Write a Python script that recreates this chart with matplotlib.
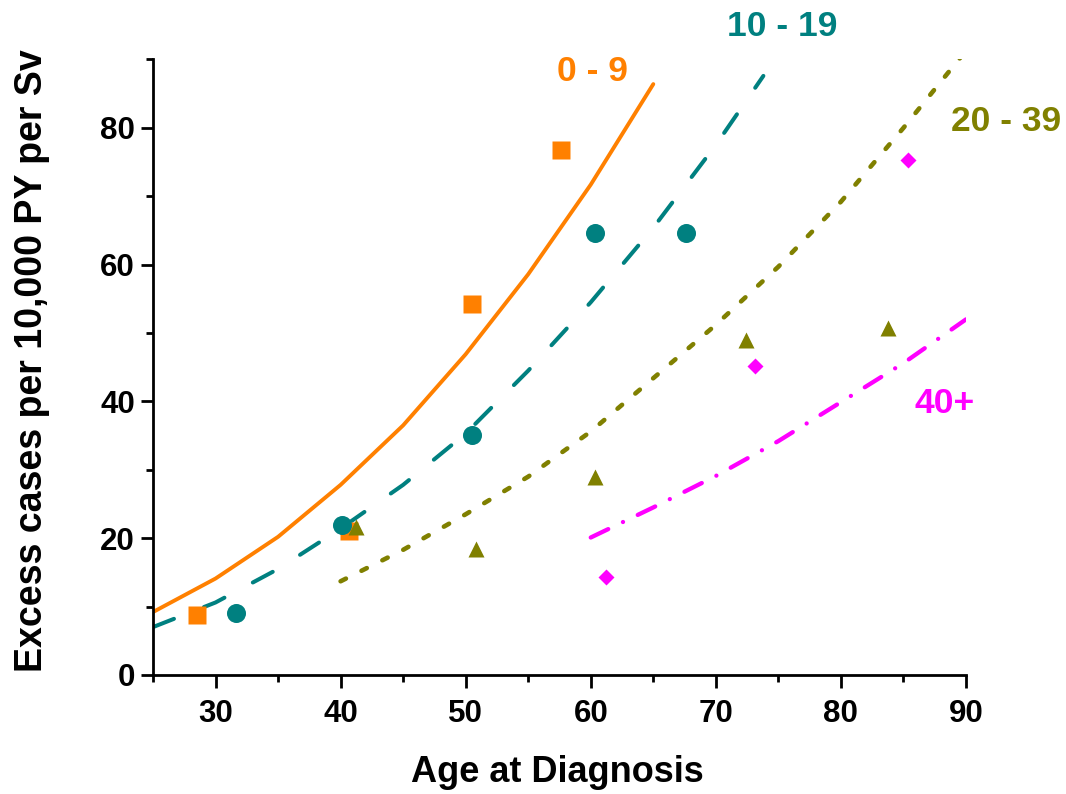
import matplotlib
matplotlib.use('Agg')
import matplotlib.pyplot as plt
from matplotlib.ticker import MultipleLocator

plt.rcParams['font.family'] = ['Liberation Sans', 'DejaVu Sans']
plt.rcParams['font.weight'] = 'bold'
plt.rcParams['axes.labelweight'] = 'bold'

# fitted curves
age_0_9 = [25, 30, 35, 40, 45, 50, 55, 60, 65]
fit_0_9 = [9.2, 14.1, 20.2, 27.8, 36.5, 46.9, 58.6, 71.7, 86.4]

age_10_19 = [25, 30, 35, 40, 45, 50, 55, 60, 65, 70, 73.8]
fit_10_19 = [7.0, 10.6, 15.5, 21.4, 27.8, 35.3, 44.5, 54.5, 65.4, 77.5, 87.6]

age_20_39 = [40, 45, 50, 55, 60, 65, 70, 75, 80, 85, 90]
fit_20_39 = [13.7, 18.3, 23.5, 29.0, 35.6, 43.4, 51.2, 59.7, 69.2, 80.0, 91.3]

age_40p = [60, 65, 70, 75, 80, 85, 90]
fit_40p = [20.1, 24.5, 29.1, 34.2, 39.9, 45.6, 52.0]

# observed points
obs_x_0_9 = [28.5, 40.7, 50.5, 57.6]
obs_y_0_9 = [8.8, 21.1, 54.3, 76.7]

obs_x_10_19 = [31.6, 40.1, 50.5, 60.3, 67.6]
obs_y_10_19 = [9.1, 21.9, 35.1, 64.6, 64.6]

obs_x_20_39 = [41.2, 50.8, 60.3, 72.4, 83.8]
obs_y_20_39 = [21.7, 18.4, 29.0, 49.0, 50.8]

obs_x_40p = [61.2, 73.1, 85.4]
obs_y_40p = [14.3, 45.2, 75.3]

ORANGE = '#FF8000'
TEAL = '#008080'
OLIVE = '#808000'
MAGENTA = '#FF00FF'

fig = plt.figure(figsize=(10.66, 7.94), dpi=100)
ax = fig.add_axes([0.1435, 0.1499, 0.7627, 0.7752])

ax.plot(age_0_9, fit_0_9, color=ORANGE, lw=2.8, solid_capstyle='round')
ax.plot(age_10_19, fit_10_19, color=TEAL, lw=2.9, dashes=(5.6, 8.0), dash_capstyle='round')
ax.plot(age_20_39, fit_20_39, color=OLIVE, lw=3.3, dashes=(1.3, 3.8), dash_capstyle='round')
ax.plot(age_40p, fit_40p, color=MAGENTA, lw=3.1, dashes=(4.5, 3.8, 0.01, 3.8), dash_capstyle='round')

ax.plot(obs_x_0_9, obs_y_0_9, 's', color=ORANGE, ms=12.5, mec='none')
ax.plot(obs_x_10_19, obs_y_10_19, 'o', color=TEAL, ms=13.7, mec='none')
ax.plot(obs_x_20_39, obs_y_20_39, '^', color=OLIVE, ms=11.5, mec='none')
ax.plot(obs_x_40p, obs_y_40p, 'D', color=MAGENTA, ms=8.6, mec='none')

ax.text(60.1, 86.9, '0 - 9', color=ORANGE, fontsize=25.5, ha='center', va='baseline')
ax.text(75.3, 93.4, '10 - 19', color=TEAL, fontsize=25.5, ha='center', va='baseline')
ax.text(93.2, 79.6, '20 - 39', color=OLIVE, fontsize=25.5, ha='center', va='baseline')
ax.text(88.3, 38.3, '40+', color=MAGENTA, fontsize=25.5, ha='center', va='baseline')

ax.set_xlim(25, 90)
ax.set_ylim(0, 90)
ax.xaxis.set_major_locator(MultipleLocator(10))
ax.xaxis.set_minor_locator(MultipleLocator(5))
ax.yaxis.set_major_locator(MultipleLocator(20))
ax.yaxis.set_minor_locator(MultipleLocator(10))
ax.set_xticks([30, 40, 50, 60, 70, 80, 90])

for side in ['top', 'right']:
    ax.spines[side].set_visible(False)
for side in ['left', 'bottom']:
    ax.spines[side].set_linewidth(2)

ax.tick_params(which='major', length=9, width=2, labelsize=22.5)
ax.tick_params(which='minor', length=5, width=2)
ax.tick_params(axis='x', pad=8)
ax.tick_params(axis='y', pad=4)

ax.set_xlabel('Age at Diagnosis', fontsize=26)
ax.set_ylabel('Excess cases per 10,000 PY per Sv', fontsize=27)
ax.xaxis.set_label_coords(0.498, -0.130)
ax.yaxis.set_label_coords(-0.127, 0.511)

fig.savefig('out.png', dpi=100)
